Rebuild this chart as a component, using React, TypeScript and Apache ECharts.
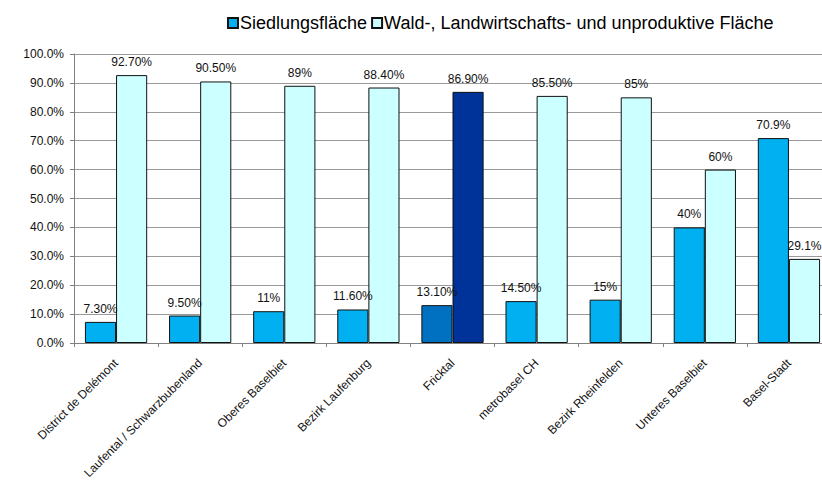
import React, { useEffect, useRef } from "react";
import * as echarts from "echarts";

const categories = [
  "District de Delémont",
  "Laufental / Schwarzbubenland",
  "Oberes Baselbiet",
  "Bezirk Laufenburg",
  "Fricktal",
  "metrobasel CH",
  "Bezirk Rheinfelden",
  "Unteres Baselbiet",
  "Basel-Stadt",
];
const siedlungValues = [7.3, 9.5, 11, 11.6, 13.1, 14.5, 15, 40, 70.9];
const siedlungLabels = ["7.30%", "9.50%", "11%", "11.60%", "13.10%", "14.50%", "15%", "40%", "70.9%"];
const waldValues = [92.7, 90.5, 89, 88.4, 86.9, 85.5, 85, 60, 29.1];
const waldLabels = ["92.70%", "90.50%", "89%", "88.40%", "86.90%", "85.50%", "85%", "60%", "29.1%"];
const highlightIndex = 4;
const seriesNames = ["Siedlungsfläche", "Wald-, Landwirtschafts- und unproduktive Fläche"];

const FONT = "'Liberation Sans', Arial, sans-serif";

export default function App() {
  const ref = useRef<HTMLDivElement>(null);
  useEffect(() => {
    if (!ref.current) return;
    const chart = echarts.init(ref.current, undefined, { renderer: "svg" });
    const mk = (vals: number[], labels: string[], hiColor: string) =>
      vals.map((v, i) => ({
        value: v,
        label: { formatter: labels[i] },
        itemStyle: i === highlightIndex ? { color: hiColor } : undefined,
      }));
    chart.setOption({
      animation: false,
      textStyle: { fontFamily: FONT },
      legend: {
        left: 222,
        top: 9,
        itemWidth: 10,
        itemHeight: 10,
        itemGap: 4,
        icon: "rect",
        textStyle: { fontSize: 18, color: "#000", fontFamily: FONT, padding: [0, 0, 0, -3] },
        data: seriesNames,
      },
      grid: { left: 74, right: 1, top: 54, bottom: 145, containLabel: false },
      xAxis: {
        type: "category",
        data: categories,
        axisLine: { lineStyle: { color: "#808080", width: 1 } },
        axisTick: { show: true, length: 4, lineStyle: { color: "#808080" } },
        axisLabel: {
          rotate: 45,
          interval: 0,
          fontSize: 12,
          color: "#111",
          fontFamily: FONT,
          margin: 18,
        },
      },
      yAxis: {
        type: "value",
        min: 0,
        max: 100,
        interval: 10,
        axisLine: { show: true, lineStyle: { color: "#808080" } },
        axisTick: { show: true, length: 4, lineStyle: { color: "#808080" } },
        splitLine: { lineStyle: { color: "#9a9a9a" } },
        axisLabel: {
          fontSize: 12,
          color: "#111",
          fontFamily: FONT,
          margin: 10,
          formatter: (v: number) => v.toFixed(1) + "%",
        },
      },
      series: [
        {
          name: seriesNames[0],
          type: "bar",
          barGap: "0%",
          barCategoryGap: "26%",
          itemStyle: { color: "#00B0F0", borderColor: "#111", borderWidth: 1 },
          label: { show: true, position: "top", distance: 7, fontSize: 12, color: "#111", fontFamily: FONT },
          data: mk(siedlungValues, siedlungLabels, "#0070C0"),
        },
        {
          name: seriesNames[1],
          type: "bar",
          barGap: "0%",
          barCategoryGap: "26%",
          itemStyle: { color: "#CCFFFF", borderColor: "#111", borderWidth: 1 },
          label: { show: true, position: "top", distance: 7, fontSize: 12, color: "#111", fontFamily: FONT },
          data: mk(waldValues, waldLabels, "#003399"),
        },
      ],
    });
    return () => chart.dispose();
  }, []);
  return (
    <div
      ref={ref}
      style={{ position: "fixed", left: 0, top: 0, width: 832, height: 488, background: "#fff" }}
    />
  );
}
